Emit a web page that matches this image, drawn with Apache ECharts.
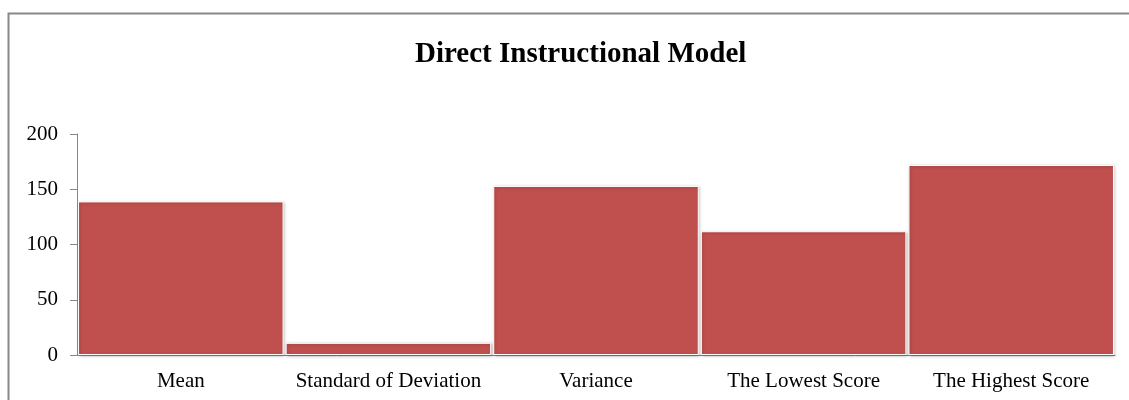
<!DOCTYPE html>
<html>
<head>
<meta charset="utf-8">
<script src="https://cdn.jsdelivr.net/npm/echarts@6/dist/echarts.min.js"></script>
<style>
  html, body { margin: 0; padding: 0; background: #fff; }
  #main { width: 1129px; height: 400px; }
</style>
</head>
<body>
<div id="main"></div>
<script>
// 数据
var categories = ['Mean', 'Standard of Deviation', 'Variance', 'The Lowest Score', 'The Highest Score'];
var scores = [139, 11, 153, 112, 172];
var yTicks = [0, 50, 100, 150, 200];

var myChart = echarts.init(document.getElementById('main'));

var serif = '"Liberation Serif", "DejaVu Serif", serif';

option = {
    backgroundColor: '#fff',
    animation: false,
    title: {
        text: 'Direct Instructional Model',
        left: 410,
        top: 35,
        textStyle: {
            fontFamily: serif,
            fontWeight: 'bold',
            fontSize: 29,
            color: '#000'
        }
    },
    graphic: [
        {
            type: 'polyline',
            shape: { points: [[8.5, 410], [8.5, 13.5], [1140, 13.5]] },
            style: { stroke: '#888', lineWidth: 2, fill: null }
        }
    ],
    grid: {
        left: 77,
        right: 14,
        top: 134,
        bottom: 45,
        containLabel: false
    },
    xAxis: {
        type: 'category',
        data: categories,
        axisLine: { show: true, lineStyle: { color: '#888', width: 1 } },
        axisTick: { show: false },
        axisLabel: {
            interval: 0,
            hideOverlap: false,
            fontFamily: serif,
            fontSize: 21,
            color: '#000',
            margin: 16
        }
    },
    yAxis: {
        type: 'value',
        min: yTicks[0],
        max: yTicks[yTicks.length - 1],
        interval: 50,
        splitLine: { show: false },
        axisLine: { show: true, lineStyle: { color: '#888', width: 1 } },
        axisTick: { show: true, length: 7, lineStyle: { color: '#888' } },
        axisLabel: {
            fontFamily: serif,
            fontSize: 21,
            color: '#000',
            margin: 19
        }
    },
    series: [
        {
            name: 'Score',
            type: 'bar',
            data: scores,
            barCategoryGap: '1%',
            itemStyle: {
                color: '#C0504D',
                borderColor: '#fff',
                borderWidth: 1,
                shadowColor: 'rgba(0,0,0,0.25)',
                shadowBlur: 3,
                shadowOffsetX: 1,
                shadowOffsetY: 1
            }
        }
    ]
};

myChart.setOption(option);
</script>
</body>
</html>
